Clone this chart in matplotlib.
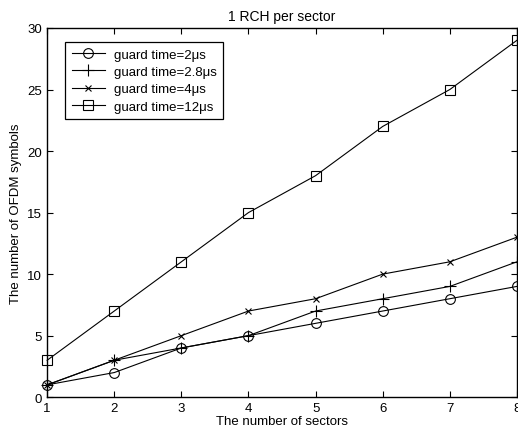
import matplotlib
matplotlib.use("Agg")
import matplotlib.pyplot as plt

sectors = [1, 2, 3, 4, 5, 6, 7, 8]
gt_2us = [1, 2, 4, 5, 6, 7, 8, 9]
gt_2_8us = [1, 3, 4, 5, 7, 8, 9, 11]
gt_4us = [1, 3, 5, 7, 8, 10, 11, 13]
gt_12us = [3, 7, 11, 15, 18, 22, 25, 29]

labels = ["guard time=2\u03bcs", "guard time=2.8\u03bcs",
          "guard time=4\u03bcs", "guard time=12\u03bcs"]
markers = ["o", "+", "x", "s"]
sizes = [7, 8, 4.5, 7]

plt.rcParams["font.family"] = ["Liberation Sans", "DejaVu Sans"]
plt.rcParams["font.size"] = 9.5

fig = plt.figure(figsize=(5.18, 4.39), dpi=100)
ax = fig.add_axes([0.091, 0.093, 0.907, 0.841])

for series, label, mk, ms in zip([gt_2us, gt_2_8us, gt_4us, gt_12us], labels, markers, sizes):
    ax.plot(sectors, series, color="black", linewidth=0.8, marker=mk,
            markersize=ms, markerfacecolor="none", markeredgecolor="black",
            markeredgewidth=0.8, label=label, clip_on=False)

ax.set_xlim(1, 8)
ax.set_ylim(0, 30)
ax.set_xticks(sectors)
ax.set_yticks([0, 5, 10, 15, 20, 25, 30])
ax.tick_params(direction="in", top=True, right=True, length=4, width=0.8,
               labelsize=9.5)
for sp in ax.spines.values():
    sp.set_linewidth(1.0)

ax.set_xlabel("The number of sectors", labelpad=1)
ax.set_ylabel("The number of OFDM symbols", labelpad=4)
ax.set_title("1 RCH per sector", pad=6, fontsize=10)

leg = ax.legend(loc="upper left", bbox_to_anchor=(0.038, 0.962), borderaxespad=0,
                fancybox=False, edgecolor="black", framealpha=1, borderpad=0.5,
                labelspacing=0.38, handlelength=2.5, handletextpad=0.7)
leg.get_frame().set_linewidth(0.9)

fig.savefig("out.png", dpi=100)
